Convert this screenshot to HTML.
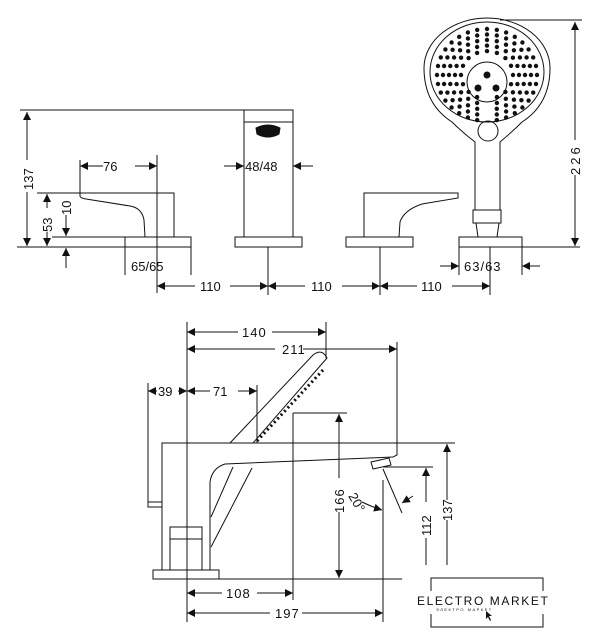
<!DOCTYPE html>
<html><head><meta charset="utf-8"><style>
html,body{margin:0;padding:0;background:#fff;}
svg{display:block;}
text{font-family:"Liberation Sans",sans-serif;font-size:13px;fill:#111;}
</style></head><body>
<svg id="s" width="603" height="640" viewBox="0 0 603 640" xmlns="http://www.w3.org/2000/svg">
<defs>
<marker id="a" viewBox="0 0 10 10" refX="10" refY="5" markerWidth="8" markerHeight="8" orient="auto-start-reverse" markerUnits="userSpaceOnUse"><path d="M0,0L10,5L0,10z" fill="#111"/></marker>
</defs>
<g stroke="#111" fill="none" stroke-width="1">
<line x1="20" y1="110" x2="244" y2="110"/>
<line x1="17" y1="247" x2="125" y2="247"/>
<line x1="52" y1="237" x2="125" y2="237"/>
<line x1="37" y1="193" x2="80" y2="193"/>
<line x1="522" y1="247" x2="580" y2="247"/>
<line x1="500" y1="20" x2="582" y2="20"/>
<line x1="27" y1="112" x2="27" y2="160" marker-start="url(#a)"/>
<line x1="27" y1="192" x2="27" y2="246" marker-end="url(#a)"/>
<line x1="47" y1="194" x2="47" y2="208" marker-start="url(#a)"/>
<line x1="47" y1="232" x2="47" y2="246" marker-end="url(#a)"/>
<line x1="66" y1="215" x2="66" y2="236" marker-end="url(#a)"/>
<line x1="66" y1="268" x2="66" y2="248" marker-end="url(#a)"/>
<path d="M80,193 L174,193 L174,237 L145,237 L144,220 Q142,208 130,206 L86,199 Q80,198 80,196z"/>
<rect x="125" y="237" width="66" height="10"/>
<line x1="80" y1="160" x2="80" y2="193"/>
<line x1="157" y1="155" x2="157" y2="293"/>
<line x1="80" y1="166" x2="103" y2="166" marker-start="url(#a)"/>
<line x1="135" y1="166" x2="157" y2="166" marker-end="url(#a)"/>
<rect x="244" y="110" width="49" height="127"/>
<line x1="244" y1="122" x2="293" y2="122"/>
<path d="M256,128 Q268,122 280,128 L279,134 Q268,140 257,134z" fill="#111"/>
<rect x="235" y="237" width="67" height="10"/>
<line x1="268" y1="247" x2="268" y2="295"/>
<line x1="224" y1="166" x2="244" y2="166" marker-end="url(#a)"/>
<line x1="313" y1="166" x2="293" y2="166" marker-end="url(#a)"/>
<path d="M364,193 L458,193 L458,198 L422,204 Q404,210 400,222 L399,237 L364,237z"/>
<rect x="346" y="237" width="67" height="10"/>
<line x1="380" y1="247" x2="380" y2="295"/>
<rect x="459" y="237" width="63" height="10"/>
<line x1="490" y1="247" x2="490" y2="295"/>
<path d="M478,237 L476,223 L499,223 L497,237"/>
<rect x="473" y="210" width="28" height="13"/>
<path d="M475,210 L475,142 Q462,132 452,122 Q424,104 424,68 A63,50 0 0 1 550,68 Q550,104 522,122 Q512,132 500,142 L500,210"/>
<ellipse cx="487" cy="72" rx="57" ry="50"/>
<circle cx="488" cy="131" r="10"/>
<circle cx="487" cy="82" r="20"/>
<line x1="575" y1="22" x2="575" y2="140" marker-start="url(#a)"/>
<line x1="575" y1="175" x2="575" y2="246" marker-end="url(#a)"/>
<line x1="125" y1="247" x2="125" y2="275"/><line x1="191" y1="247" x2="191" y2="275"/>
<line x1="459" y1="247" x2="459" y2="275"/><line x1="522" y1="247" x2="522" y2="275"/>
<line x1="440" y1="266" x2="459" y2="266" marker-end="url(#a)"/>
<line x1="540" y1="266" x2="522" y2="266" marker-end="url(#a)"/>
<line x1="157" y1="286" x2="195" y2="286" marker-start="url(#a)"/>
<line x1="230" y1="286" x2="268" y2="286" marker-end="url(#a)"/>
<line x1="268" y1="286" x2="305" y2="286" marker-start="url(#a)"/>
<line x1="342" y1="286" x2="380" y2="286" marker-end="url(#a)"/>
<line x1="380" y1="286" x2="417" y2="286" marker-start="url(#a)"/>
<line x1="452" y1="286" x2="490" y2="286" marker-end="url(#a)"/>

<line x1="187" y1="322" x2="187" y2="622"/>
<line x1="326" y1="322" x2="326" y2="358"/>
<line x1="397" y1="342" x2="397" y2="443"/>
<line x1="187" y1="332" x2="238" y2="332" marker-start="url(#a)"/>
<line x1="272" y1="332" x2="326" y2="332" marker-end="url(#a)"/>
<line x1="187" y1="349" x2="275" y2="349" marker-start="url(#a)"/>
<line x1="303" y1="349" x2="397" y2="349" marker-end="url(#a)"/>
<line x1="148" y1="383" x2="148" y2="502"/>
<line x1="148" y1="391" x2="157" y2="391" marker-start="url(#a)"/>
<line x1="178" y1="391" x2="187" y2="391" marker-end="url(#a)"/>
<line x1="187" y1="391" x2="210" y2="391" marker-start="url(#a)"/>
<line x1="238" y1="391" x2="257" y2="391" marker-end="url(#a)"/>
<line x1="257" y1="385" x2="257" y2="443"/>
<path d="M230,443 L313,355 Q322,348 327,358 L253,443"/>
<path d="M257,441 L323,370" stroke-dasharray="2,3" stroke-width="3"/>
<path d="M162,570 L162,443 L397,443 L397,455 L393,457 L225,464 Q212,468 210,482 L210,570"/>
<line x1="252" y1="468" x2="211" y2="547"/>
<line x1="233" y1="467" x2="211" y2="517"/>
<path d="M371,462 L389,458 L391,465 L373,469z"/>
<rect x="153" y="570" width="66" height="9"/>
<rect x="170" y="527" width="32" height="43"/>
<line x1="170" y1="539" x2="202" y2="539"/>
<rect x="148" y="502" width="14" height="5"/>
<line x1="293" y1="413" x2="347" y2="413"/>
<line x1="293" y1="413" x2="293" y2="600"/>
<line x1="339" y1="414" x2="339" y2="478" marker-start="url(#a)"/>
<line x1="339" y1="512" x2="339" y2="578" marker-end="url(#a)"/>
<line x1="219" y1="579" x2="402" y2="579"/>
<line x1="383" y1="469" x2="402" y2="513"/>
<line x1="383" y1="480" x2="383" y2="622"/>
<path d="M362,502 Q372,507 382,510" marker-end="url(#a)"/>
<line x1="413" y1="496" x2="402" y2="503" marker-end="url(#a)"/>
<line x1="383" y1="467" x2="433" y2="467"/>
<line x1="397" y1="443" x2="455" y2="443"/>
<line x1="426" y1="468" x2="426" y2="502" marker-start="url(#a)"/>
<line x1="426" y1="538" x2="426" y2="565"/>
<line x1="447" y1="444" x2="447" y2="500" marker-start="url(#a)"/>
<line x1="447" y1="520" x2="447" y2="565"/>
<line x1="187" y1="593" x2="222" y2="593" marker-start="url(#a)"/>
<line x1="257" y1="593" x2="293" y2="593" marker-end="url(#a)"/>
<line x1="187" y1="613" x2="270" y2="613" marker-start="url(#a)"/>
<line x1="302" y1="613" x2="383" y2="613" marker-end="url(#a)"/>
<path d="M431,591 L431,578 L543,578 L543,591"/>
<path d="M431,614 L431,627 L543,627 L543,614"/>
</g>
<g id="dots" fill="#111"></g>
<g fill="#111">
<circle cx="487" cy="75" r="3.5"/><circle cx="478" cy="88" r="3.5"/><circle cx="496" cy="88" r="3.5"/>
<path d="M486,611 L486,619 L488,617 L490,621 L491,620 L489,616 L492,616z"/>
</g>
<text x="103" y="171">76</text>
<text x="245" y="171">48/48</text>
<text x="131" y="271">65/65</text>
<text x="464" y="271" letter-spacing="1">63/63</text>
<text x="200" y="291">110</text>
<text x="311" y="291">110</text>
<text x="421" y="291">110</text>
<text transform="translate(33,190) rotate(-90)">137</text>
<text transform="translate(52,232) rotate(-90)">53</text>
<text transform="translate(71,215) rotate(-90)">10</text>
<text transform="translate(580,175) rotate(-90)" letter-spacing="3">226</text>
<text x="242" y="337" letter-spacing="1">140</text>
<text x="282" y="354" letter-spacing="1">211</text>
<text x="158" y="396">39</text>
<text x="213" y="396">71</text>
<text x="226" y="598" letter-spacing="1">108</text>
<text x="275" y="618" letter-spacing="1">197</text>
<text transform="translate(344,513) rotate(-90)" letter-spacing="1">166</text>
<text transform="translate(348,496) rotate(60)">20°</text>
<text transform="translate(431,536) rotate(-90)">112</text>
<text transform="translate(452,521) rotate(-90)">137</text>
<text x="417" y="605" style="font-size:12px" letter-spacing="1.6">ELECTRO MARKET</text>
<text x="436" y="611" style="font-size:4px" letter-spacing="1.5">ЭЛЕКТРО МАРКЕТ</text>
</svg>
<script>
(function(){
var g=document.getElementById('dots'),ns='http://www.w3.org/2000/svg';
var cx=487,cy=75,rings=[[26,16],[32,20],[38,24],[44,28],[50,32]];
rings.forEach(function(r){
 for(var i=0;i<r[1];i++){
  var t=i/r[1]*2*Math.PI;
  var x=cx+r[0]*Math.cos(t),y=cy+r[0]*0.92*Math.sin(t);
  if(y>cy+r[0]*0.8 && Math.abs(x-cx)<8) continue;
  var c=document.createElementNS(ns,'circle');
  c.setAttribute('cx',x.toFixed(1));c.setAttribute('cy',y.toFixed(1));c.setAttribute('r',2.2);
  g.appendChild(c);
 }
});
})();
</script>
</body></html>
